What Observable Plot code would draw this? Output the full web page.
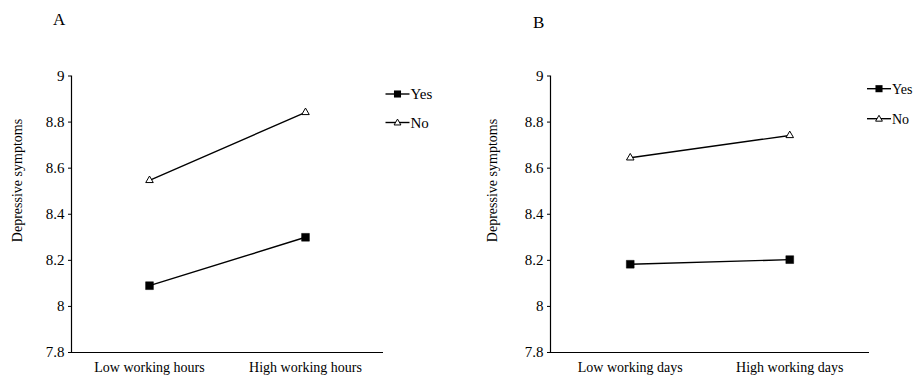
<!DOCTYPE html>
<html>
<head>
<meta charset="utf-8">
<script src="https://cdn.jsdelivr.net/npm/d3@7"></script>
<script src="https://cdn.jsdelivr.net/npm/@observablehq/plot@0.6"></script>
<style>
  html, body { margin: 0; padding: 0; background: #fff; overflow: hidden; }
  #wrap { position: relative; width: 916px; height: 377px; overflow: hidden; font-family: "Liberation Serif", "Times New Roman", serif; }
  .panel { position: absolute; top: 0; }
  .tag { position: absolute; font-size: 17px; color: #000; }
  #overlay { position: absolute; left: 0; top: 0; }
</style>
</head>
<body>
<div id="wrap">
  <div class="tag" style="left:53px; top:10px;">A</div>
  <div class="tag" style="left:533px; top:13px;">B</div>
</div>
<script>
// ---- data ----
const categoriesA = ["Low working hours", "High working hours"];
const categoriesB = ["Low working days", "High working days"];
const series = ["Yes", "No"];
const yesA = [8.09, 8.30];
const noA = [8.547, 8.842];
const yesB = [8.183, 8.203];
const noB = [8.645, 8.742];
const yTicks = [7.8, 8, 8.2, 8.4, 8.6, 8.8, 9];
const yTickLabels = ["7.8", "8", "8.2", "8.4", "8.6", "8.8", "9"];
const yTitle = "Depressive symptoms";

function rows(cats, yes, no) {
  const out = [];
  cats.forEach((c, i) => out.push({cat: c, pos: i + 0.5, series: series[0], value: yes[i]}));
  cats.forEach((c, i) => out.push({cat: c, pos: i + 0.5, series: series[1], value: no[i]}));
  return out;
}

function panel(cats, yes, no, ml, mr) {
  const data = rows(cats, yes, no);
  const xt = cats.map((c, i) => i + 0.5);
  return Plot.plot({
    width: 458,
    height: 377,
    marginLeft: ml,
    marginRight: mr,
    marginTop: 75.5,
    marginBottom: 25,
    style: {fontFamily: '"Liberation Serif", "Times New Roman", serif', fontSize: "14px", color: "#000", background: "transparent"},
    x: {domain: [0, cats.length]},
    y: {domain: [7.8, 9]},
    marks: [
      Plot.axisY({ticks: yTicks, tickFormat: (d) => yTickLabels[yTicks.indexOf(d)], tickSize: 3, tickPadding: 4,
        label: null, stroke: "#000", fill: "#000", fontSize: 15}),
      Plot.axisX({ticks: xt, tickFormat: (d) => cats[Math.round(d - 0.5)], tickSize: 0, tickPadding: 10, label: null, fill: "#000", fontSize: 14}),
      Plot.ruleX([0], {stroke: "#000", strokeWidth: 1.2}),
      Plot.ruleY([7.8], {stroke: "#000", strokeWidth: 1.2}),
      Plot.line(data, {x: "pos", y: "value", z: "series", stroke: "#000", strokeWidth: 1.4}),
      Plot.dot(data.filter(d => d.series === series[0]), {x: "pos", y: "value", symbol: "square", r: 4.4, fill: "#000", stroke: "#000", strokeWidth: 0.5}),
      Plot.dot(data.filter(d => d.series === series[1]), {x: "pos", y: "value", symbol: "triangle", r: 2.8, fill: "#fff", stroke: "#000", strokeWidth: 1})
    ]
  });
}

const wrap = document.getElementById("wrap");
const pA = panel(categoriesA, yesA, noA, 71, 75);
const pB = panel(categoriesB, yesB, noB, 92, 47);
const dA = document.createElement("div"); dA.className = "panel"; dA.style.left = "0px"; dA.appendChild(pA); wrap.appendChild(dA);
const dB = document.createElement("div"); dB.className = "panel"; dB.style.left = "458px"; dB.appendChild(pB); wrap.appendChild(dB);

// ---- overlay: y titles and legends ----
const ov = d3.select(wrap).append("svg").attr("id", "overlay").attr("width", 916).attr("height", 377);
const ff = '"Liberation Serif", "Times New Roman", serif';
[[17, 180.5], [492, 180.5]].forEach(([x, y]) => {
  ov.append("text").attr("transform", `translate(${x},${y}) rotate(-90)`).attr("text-anchor", "middle")
    .attr("dy", "0.35em").attr("font-size", 14).attr("font-family", ff).text(yTitle);
});
function legend(x0, ys, fs) {
  series.forEach((s, i) => {
    const g = ov.append("g").attr("transform", `translate(${x0},${ys[i]})`);
    g.append("line").attr("x1", 0).attr("x2", 24).attr("y1", 0).attr("y2", 0).attr("stroke", "#000").attr("stroke-width", 1.4);
    if (i === 0) {
      g.append("path").attr("d", d3.symbol(d3.symbolSquare, 50)()).attr("transform", "translate(12,0)").attr("fill", "#000");
    } else {
      g.append("path").attr("d", d3.symbol(d3.symbolTriangle, 20)()).attr("transform", "translate(12,0.5)").attr("fill", "#fff").attr("stroke", "#000").attr("stroke-width", 1);
    }
    g.append("text").attr("x", 25).attr("y", 0).attr("dy", "0.35em").attr("font-size", fs)
      .attr("font-family", ff).text(s);
  });
}
legend(385.5, [94, 122.5], 15);
legend(867, [88.7, 118.7], 14);
</script>
</body>
</html>
